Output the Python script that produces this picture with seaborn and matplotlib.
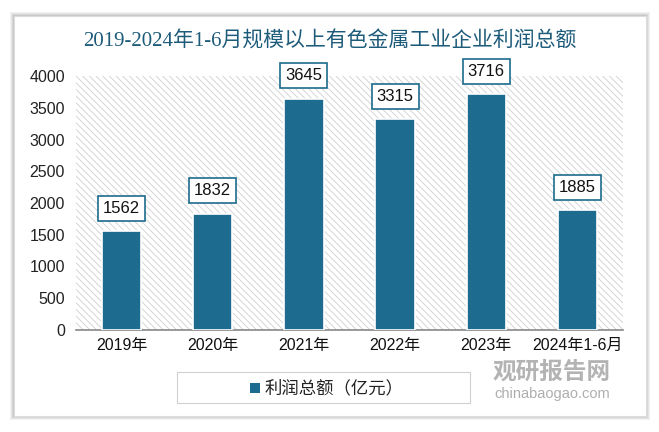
import matplotlib
matplotlib.use("Agg")
import matplotlib.pyplot as plt
import seaborn as sns
import pandas as pd
from matplotlib.patches import Rectangle

categories = ["2019年", "2020年", "2021年", "2022年", "2023年", "2024年1-6月"]
values = [1562, 1832, 3645, 3315, 3716, 1885]
yticks = [0, 500, 1000, 1500, 2000, 2500, 3000, 3500, 4000]
title = "2019-2024年1-6月规模以上有色金属工业企业利润总额"
legend_label = "利润总额（亿元）"

sns.set_theme(style="white")
plt.rcParams['font.family'] = ['Liberation Sans', 'Noto Sans CJK SC', 'DejaVu Sans']
plt.rcParams['hatch.color'] = '#d0d0d0'
plt.rcParams['hatch.linewidth'] = 0.6

W, H = 659, 432
fig = plt.figure(figsize=(W/100, H/100), dpi=100)
fig.patch.set_facecolor('white')

# card shadow + card
for i, a in enumerate([0.05, 0.05, 0.06, 0.07]):
    d = 4 - i
    fig.patches.append(Rectangle(((14 - d)/W, (432 - 416 - d)/H), (632 + 2*d)/W, (400 + 2*d)/H,
                                 transform=fig.transFigure, facecolor='black', alpha=a,
                                 edgecolor='none', zorder=0))
fig.patches.append(Rectangle((14/W, (432-416)/H), 632/W, 400/H, transform=fig.transFigure,
                             facecolor='white', edgecolor='#dddddd', lw=0.8, zorder=1))

ax = fig.add_axes([76/W, (432-330)/H, (623-76)/W, (330-76)/H])
ax.set_zorder(2)
ax.patch.set_alpha(0)

df = pd.DataFrame({"cat": categories, "val": values})
color = '#1d6b8e'
sns.barplot(data=df, x="cat", y="val", color=color, width=0.43, ax=ax,
            saturation=1, edgecolor='white', linewidth=1.2, zorder=3)

# hatched background
ax.add_patch(Rectangle((0, 0), 1, 1, transform=ax.transAxes, facecolor='white',
                       edgecolor='#d0d0d0', hatch='\\' * 5, lw=0, zorder=0))

ax.set_ylim(0, 4000)
ax.set_xlim(-0.5, len(categories) - 0.5)
ax.set_yticks(yticks)
ax.set_yticklabels([str(t) for t in yticks], fontsize=11.5, color='#222222')
ax.tick_params(axis='y', length=0, pad=8)
ax.tick_params(axis='x', length=0, pad=6, labelsize=11.5, labelcolor='#111111')
ax.set_xlabel("")
ax.set_ylabel("")
for s in ['top', 'right', 'left']:
    ax.spines[s].set_visible(False)
ax.spines['bottom'].set_color('#888888')
ax.spines['bottom'].set_linewidth(1.2)

for i, v in enumerate(values):
    ax.annotate(str(v), xy=(i, v), xytext=(0, 11), textcoords='offset points',
                ha='center', va='bottom', fontsize=12, color='#111111', zorder=5,
                bbox=dict(boxstyle='square,pad=0.3', facecolor='white',
                          edgecolor=color, lw=1.2))

fig.text(0.5, (432-42)/H, title, ha='center', va='center', fontsize=15,
         color='#1d5b7a', family=['Liberation Serif', 'Noto Sans CJK SC'], zorder=5)

# legend box
fig.patches.append(Rectangle((177/W, (432-403)/H), 293/W, 31/H, transform=fig.transFigure,
                             facecolor='white', edgecolor='#d0d0d0', lw=0.8, zorder=3))
fig.patches.append(Rectangle((250/W, (432-393)/H), 10/W, 10/H, transform=fig.transFigure,
                             facecolor=color, edgecolor='none', zorder=4))
fig.text(265/W, (432-388)/H, legend_label, ha='left', va='center', fontsize=12.5,
         color='#222222', zorder=5)

# watermark
fig.text(552/W, (432-372)/H, "观研报告网", ha='center', va='center', fontsize=17,
         color='#9a9a9a', alpha=0.75, weight='bold', family=['Noto Sans CJK SC'], zorder=6)
fig.text(552/W, (432-394)/H, "chinabaogao.com", ha='center', va='center', fontsize=10.5,
         color='#9a9a9a', alpha=0.8, zorder=6)

fig.savefig("out.png", dpi=100)
